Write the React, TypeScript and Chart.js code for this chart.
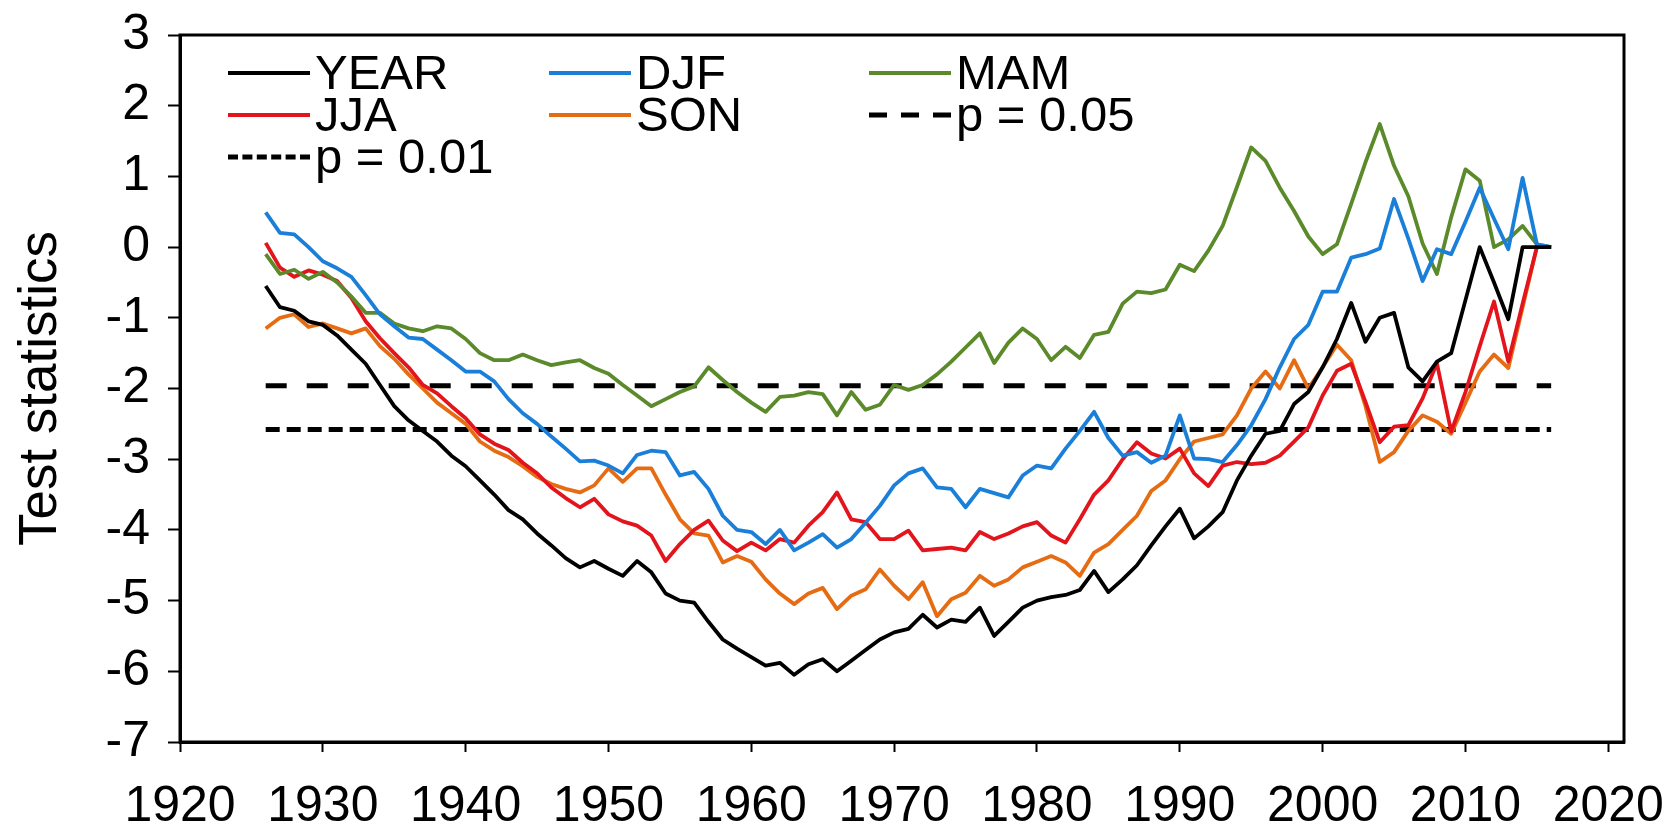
import React, { useEffect, useRef } from "react";
import { Chart, registerables } from "chart.js";

Chart.register(...registerables);

const START_YEAR = 1926;

const YEAR = [
  -0.55, -0.85, -0.9, -1.05, -1.1, -1.25, -1.45, -1.65, -1.95, -2.25,
  -2.45, -2.6, -2.75, -2.95, -3.1, -3.3, -3.5, -3.72, -3.85, -4.05,
  -4.22, -4.4, -4.53, -4.44, -4.55, -4.65, -4.44, -4.6, -4.9, -5.0,
  -5.03, -5.3, -5.55, -5.68, -5.8, -5.92, -5.88, -6.05, -5.9, -5.83,
  -6.0, -5.85, -5.7, -5.55, -5.45, -5.4, -5.2, -5.38, -5.27, -5.3,
  -5.1, -5.5, -5.3, -5.1, -5.0, -4.95, -4.92, -4.85, -4.58, -4.88,
  -4.7, -4.5, -4.22, -3.95, -3.7, -4.12, -3.95, -3.75, -3.3, -2.95,
  -2.64, -2.6, -2.22, -2.05, -1.7, -1.3, -0.79, -1.34, -1.0, -0.93,
  -1.7, -1.9, -1.62, -1.5, -0.75, 0.0, -0.5, -1.02, 0.0, 0.0,
  0.0,
];

const DJF = [
  0.49, 0.2, 0.18, 0.0, -0.2, -0.3, -0.42, -0.68, -0.95, -1.12,
  -1.28, -1.3, -1.45, -1.6, -1.76, -1.76, -1.9, -2.15, -2.35, -2.5,
  -2.68, -2.85, -3.03, -3.02, -3.09, -3.2, -2.94, -2.88, -2.9, -3.23,
  -3.18, -3.42, -3.8, -4.0, -4.03, -4.2, -4.0, -4.29, -4.18, -4.06,
  -4.25, -4.13, -3.9, -3.66, -3.37, -3.2, -3.13, -3.4, -3.42, -3.68,
  -3.42, -3.48, -3.54, -3.23, -3.09, -3.13, -2.85, -2.6, -2.33, -2.7,
  -2.95, -2.9, -3.05, -2.95, -2.38, -2.99, -3.0, -3.04, -2.8, -2.52,
  -2.15, -1.7, -1.3, -1.1, -0.63, -0.63, -0.15, -0.1, -0.02, 0.68,
  0.12, -0.48, -0.03, -0.1, 0.36, 0.84, 0.4, -0.03, 0.98, 0.04,
  0.0,
];

const MAM = [
  -0.1, -0.38, -0.32, -0.45, -0.35, -0.5, -0.7, -0.93, -0.93, -1.08,
  -1.15, -1.19, -1.12, -1.15, -1.3, -1.5, -1.6, -1.6, -1.52, -1.6,
  -1.67, -1.63, -1.6, -1.71, -1.79, -1.95, -2.1, -2.25, -2.15, -2.05,
  -1.97, -1.7, -1.88, -2.05, -2.2, -2.33, -2.12, -2.1, -2.05, -2.08,
  -2.38, -2.05, -2.3, -2.23, -1.95, -2.02, -1.95, -1.8, -1.62, -1.42,
  -1.22, -1.64, -1.35, -1.15, -1.3, -1.6, -1.41, -1.57, -1.24, -1.2,
  -0.8, -0.63, -0.65, -0.6, -0.25, -0.34, -0.05, 0.3, 0.85, 1.41,
  1.22, 0.84, 0.51, 0.15, -0.1, 0.04, 0.61, 1.2, 1.74, 1.15,
  0.72, 0.05, -0.38, 0.42, 1.1, 0.94, 0.0, 0.11, 0.3, 0.04,
  0.0,
];

const JJA = [
  0.06, -0.29, -0.42, -0.33, -0.39, -0.48, -0.72, -1.05, -1.29, -1.5,
  -1.7, -1.95, -2.07, -2.25, -2.42, -2.65, -2.78, -2.87, -3.05, -3.2,
  -3.4, -3.55, -3.68, -3.56, -3.78, -3.88, -3.94, -4.08, -4.44, -4.2,
  -4.0, -3.87, -4.15, -4.3, -4.18, -4.29, -4.13, -4.18, -3.94, -3.75,
  -3.47, -3.85, -3.89, -4.13, -4.13, -4.01, -4.29, -4.27, -4.25, -4.29,
  -4.03, -4.13, -4.05, -3.95, -3.89, -4.08, -4.18, -3.85, -3.5, -3.3,
  -3.0, -2.76, -2.92, -2.99, -2.85, -3.2, -3.38, -3.09, -3.04, -3.07,
  -3.05, -2.95, -2.75, -2.55, -2.1, -1.75, -1.65, -2.19, -2.76, -2.54,
  -2.52, -2.14, -1.64, -2.61, -2.05, -1.4, -0.77, -1.62, -0.8, 0.0,
  0.0,
];

const SON = [
  -1.15, -1.0, -0.95, -1.13, -1.08, -1.15, -1.22, -1.15, -1.4, -1.58,
  -1.8, -2.0, -2.2, -2.35, -2.5, -2.75, -2.88, -2.97, -3.1, -3.25,
  -3.35, -3.42, -3.47, -3.37, -3.13, -3.32, -3.13, -3.13, -3.5, -3.85,
  -4.05, -4.08, -4.46, -4.37, -4.45, -4.7, -4.9, -5.05, -4.9, -4.82,
  -5.12, -4.93, -4.84, -4.56, -4.79, -4.98, -4.74, -5.22, -4.98, -4.89,
  -4.65, -4.79, -4.7, -4.53, -4.45, -4.37, -4.46, -4.65, -4.32, -4.2,
  -4.0, -3.8, -3.45, -3.3, -3.0, -2.75, -2.7, -2.65, -2.38, -2.0,
  -1.76, -2.0, -1.6, -2.0, -1.7, -1.38, -1.6, -2.25, -3.04, -2.9,
  -2.6, -2.38, -2.47, -2.64, -2.2, -1.76, -1.52, -1.71, -0.85, 0.0,
  0.0,
];

const P05 = -1.96;
const P01 = -2.58;

const X_TICKS = [1920, 1930, 1940, 1950, 1960, 1970, 1980, 1990, 2000, 2010, 2020];
const Y_TICKS = [-7, -6, -5, -4, -3, -2, -1, 0, 1, 2, 3];

const YEARS = YEAR.map((_, i) => START_YEAR + i);

const TICK_FONT = "'Liberation Sans Narrow', 'Arial Narrow', 'Liberation Sans', Arial, sans-serif";
const TEXT_FONT = "'Liberation Sans', Arial, sans-serif";

const series = (vals: number[]) => vals.map((v, i) => ({ x: YEARS[i], y: v }));
const flat = (v: number) => [
  { x: YEARS[0], y: v },
  { x: YEARS[YEARS.length - 1], y: v },
];

const framePlugin = {
  id: "frame",
  afterDatasetsDraw(chart: any) {
    const { ctx, chartArea: a } = chart;
    ctx.save();
    ctx.strokeStyle = "#000";
    ctx.lineWidth = 3;
    ctx.strokeRect(a.left, a.top, a.right - a.left, a.bottom - a.top);
    ctx.restore();
  },
};

const legendPlugin = {
  id: "gridLegend",
  afterDraw(chart: any) {
    const { ctx, chartArea: a } = chart;
    const colX = [48, 369, 689];
    const rowY = [38, 80, 122];
    const lineLen = 82;
    ctx.save();
    ctx.font = `49px ${TEXT_FONT}`;
    ctx.textBaseline = "middle";
    ctx.textAlign = "left";
    chart.data.datasets.forEach((ds: any, i: number) => {
      const col = i % 3;
      const row = Math.floor(i / 3);
      const x = a.left + colX[col];
      const y = a.top + rowY[row];
      ctx.beginPath();
      ctx.strokeStyle = ds.borderColor;
      ctx.lineWidth = ds.borderWidth;
      ctx.lineCap = "butt";
      ctx.setLineDash(ds.legendDash || ds.borderDash || []);
      ctx.moveTo(x, y);
      ctx.lineTo(x + lineLen, y);
      ctx.stroke();
      ctx.setLineDash([]);
      ctx.fillStyle = "#000";
      ctx.fillText(ds.label, x + lineLen + 5, y + 2);
    });
    ctx.restore();
  },
};

export default function App() {
  const ref = useRef<HTMLCanvasElement | null>(null);

  useEffect(() => {
    if (!ref.current) return;
    const common = { pointRadius: 0, tension: 0, fill: false, borderCapStyle: "butt", borderJoinStyle: "round" };
    const chart = new Chart(ref.current, {
      type: "line",
      data: {
        datasets: [
          { label: "YEAR", data: series(YEAR), borderColor: "#000000", borderWidth: 3.8, ...common },
          { label: "DJF", data: series(DJF), borderColor: "#1a7fd8", borderWidth: 3.8, ...common },
          { label: "MAM", data: series(MAM), borderColor: "#5b8a2b", borderWidth: 3.8, ...common },
          { label: "JJA", data: series(JJA), borderColor: "#e3141c", borderWidth: 3.8, ...common },
          { label: "SON", data: series(SON), borderColor: "#e66c14", borderWidth: 3.8, ...common },
          { label: "p = 0.05", data: flat(P05), borderColor: "#000000", borderWidth: 5, borderDash: [21, 20], legendDash: [18, 14], ...common },
          { label: "p = 0.01", data: flat(P01), borderColor: "#000000", borderWidth: 5, borderDash: [14, 7], legendDash: [10, 4.4], ...common },
        ],
      } as any,
      options: {
        animation: false,
        responsive: true,
        maintainAspectRatio: false,
        layout: { padding: { top: 35, right: 54, left: 0, bottom: 0 } },
        plugins: { legend: { display: false }, tooltip: { enabled: false } },
        scales: {
          x: {
            type: "linear",
            min: 1920,
            max: 2021.1,
            afterBuildTicks: (s: any) => {
              s.ticks = X_TICKS.map((v) => ({ value: v }));
            },
            afterFit: (s: any) => {
              s.height = 86;
              s.paddingLeft = 0;
              s.paddingRight = 0;
            },
            border: { display: true, color: "#000", width: 3 },
            grid: { drawOnChartArea: false, drawTicks: true, tickLength: 10, tickColor: "#000", tickWidth: 2 },
            ticks: {
              font: { family: TICK_FONT, size: 50, lineHeight: 1 },
              color: "#000",
              padding: 30,
              maxRotation: 0,
              autoSkip: false,
              callback: (v: any) => String(v),
            },
          },
          y: {
            type: "linear",
            min: -7,
            max: 3,
            afterBuildTicks: (s: any) => {
              s.ticks = Y_TICKS.map((v) => ({ value: v }));
            },
            afterFit: (s: any) => {
              s.width = 180;
              s.paddingTop = 0;
              s.paddingBottom = 0;
            },
            border: { display: true, color: "#000", width: 3 },
            grid: { drawOnChartArea: false, drawTicks: true, tickLength: 12, tickColor: "#000", tickWidth: 2 },
            ticks: {
              font: { family: TICK_FONT, size: 50, lineHeight: 1 },
              color: "#000",
              padding: 18,
              autoSkip: false,
              callback: (v: any) => String(v),
            },
            title: {
              display: true,
              text: "Test statistics",
              color: "#000",
              font: { family: TEXT_FONT, size: 53, lineHeight: 1.2 },
              padding: { top: 10, bottom: 0 },
            },
          },
        },
      } as any,
      plugins: [framePlugin, legendPlugin],
    });
    return () => chart.destroy();
  }, []);

  return (
    <div style={{ position: "fixed", left: 0, top: 0, width: 1678, height: 828, background: "#fff" }}>
      <canvas ref={ref} />
    </div>
  );
}
